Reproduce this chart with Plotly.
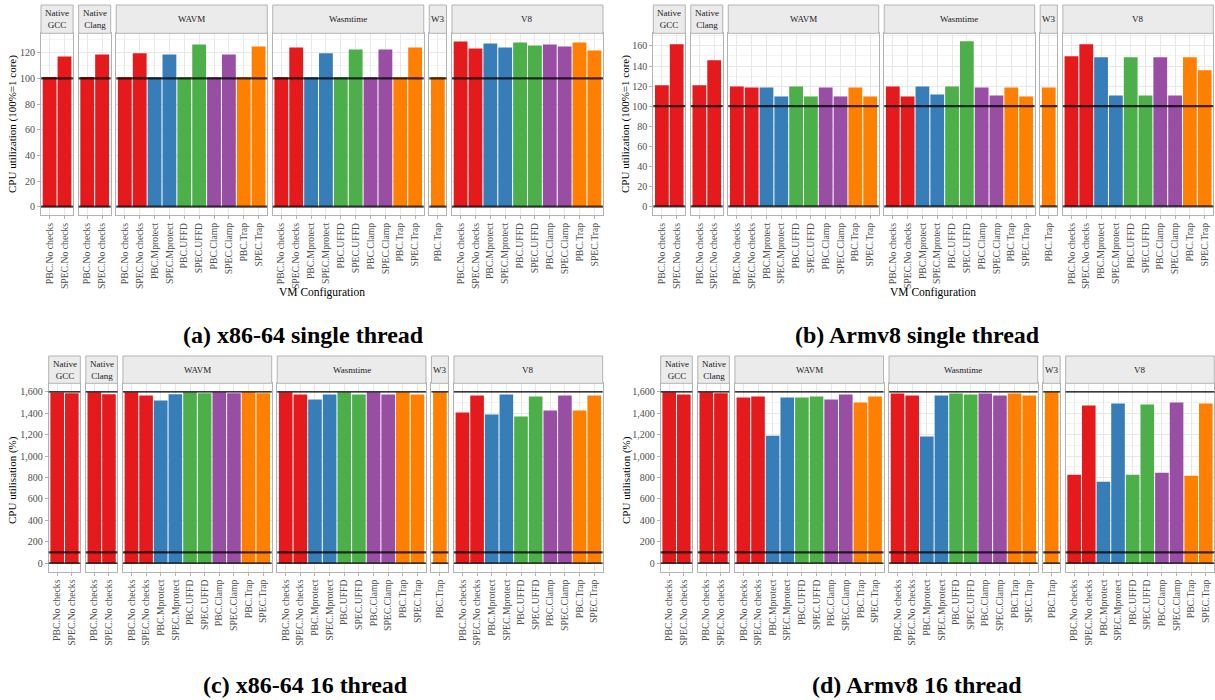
import plotly.graph_objects as go

# ---------------- data ----------------
FACET_LABELS = ["Native<br>GCC", "Native<br>Clang", "WAVM", "Wasmtime", "W3", "V8"]
CATS_NATIVE = ["PBC.No checks", "SPEC.No checks"]
CATS_VM = ["PBC.No checks", "SPEC.No checks", "PBC.Mprotect", "SPEC.Mprotect",
           "PBC.UFFD", "SPEC.UFFD", "PBC.Clamp", "SPEC.Clamp", "PBC.Trap", "SPEC.Trap"]
CATS_W3 = ["PBC.Trap"]
FACET_CATS = [CATS_NATIVE, CATS_NATIVE, CATS_VM, CATS_VM, CATS_W3, CATS_VM]

X86_SINGLE = [
    [101.2, 117.1],
    [101.2, 118.7],
    [101.0, 119.7, 101.0, 118.7, 101.0, 126.5, 101.0, 118.7, 101.0, 125.0],
    [101.0, 124.2, 101.0, 119.7, 101.0, 122.6, 101.0, 122.6, 101.0, 124.2],
    [101.0],
    [128.9, 123.4, 127.3, 124.2, 128.1, 125.7, 126.5, 125.0, 128.1, 121.8],
]
ARM_SINGLE = [
    [120.7, 161.7],
    [120.7, 145.7],
    [119.7, 118.7, 118.7, 109.7, 119.7, 109.7, 118.7, 109.7, 118.7, 109.7],
    [119.7, 109.7, 119.7, 111.7, 119.7, 164.7, 118.7, 110.7, 118.7, 109.7],
    [118.7],
    [149.7, 161.7, 148.7, 110.7, 148.7, 110.7, 148.7, 110.7, 148.7, 135.7],
]
X86_16 = [
    [1594, 1588],
    [1597, 1578],
    [1597, 1566, 1519, 1578, 1597, 1588, 1597, 1588, 1597, 1588],
    [1597, 1575, 1528, 1575, 1597, 1575, 1597, 1575, 1597, 1575],
    [1597],
    [1407, 1566, 1388, 1575, 1369, 1556, 1425, 1566, 1425, 1566],
]
ARM_16 = [
    [1597, 1575],
    [1597, 1588],
    [1547, 1556, 1191, 1547, 1547, 1556, 1528, 1575, 1500, 1556],
    [1584, 1566, 1182, 1566, 1584, 1575, 1584, 1566, 1584, 1566],
    [1597],
    [826, 1472, 761, 1491, 826, 1481, 845, 1500, 817, 1491],
]
HLINES_SINGLE = [0, 100]
HLINES_16 = [0, 100, 1600]

CAPTIONS = ["(a) x86-64 single thread", "(b) Armv8 single thread",
            "(c) x86-64 16 thread", "(d) Armv8 16 thread"]
YTITLE_SINGLE = "CPU utilization (100%=1 core)"
YTITLE_16 = "CPU utilisation (%)"
XTITLE = "VM Configuration"

# ---------------- style ----------------
COLORS = {"No checks": "#E41A1C", "Mprotect": "#377EB8", "UFFD": "#4DAF4A",
          "Clamp": "#984EA3", "Trap": "#FF7F00"}
W, H = 1215, 700
FONT = "Liberation Serif"
BORDER = "#B3B3B3"
GRID = "#E8E8E8"
MINOR = "#F3F3F3"
GAP = 5.5
EXP = 0.08

PANELS = [
    dict(data=X86_SINGLE, hl=HLINES_SINGLE, yt=YTITLE_SINGLE, xt=XTITLE, cap=CAPTIONS[0],
         L=41, R=603, st=5, top=33.3, bot=215, yr=[-6.5, 135.2], dt=20, mdt=10, fmt="",
         ytx=12, yty=124, capx=303.5, capy=335, ytpx=292),
    dict(data=ARM_SINGLE, hl=HLINES_SINGLE, yt=YTITLE_SINGLE, xt=XTITLE, cap=CAPTIONS[1],
         L=653.3, R=1213.3, st=5, top=33.3, bot=215, yr=[-8.5, 172.6], dt=20, mdt=10, fmt="",
         ytx=625, yty=124, capx=917, capy=335, ytpx=292),
    dict(data=X86_16, hl=HLINES_16, yt=YTITLE_16, xt=None, cap=CAPTIONS[2],
         L=48.7, R=602.7, st=356, top=383.3, bot=571.7, yr=[-80, 1680], dt=200, mdt=100, fmt=",",
         ytx=12, yty=480, capx=305.5, capy=685, ytpx=None),
    dict(data=ARM_16, hl=HLINES_16, yt=YTITLE_16, xt=None, cap=CAPTIONS[3],
         L=660.7, R=1214.3, st=356, top=383.3, bot=571.7, yr=[-80, 1680], dt=200, mdt=100, fmt=",",
         ytx=626, yty=480, capx=917.5, capy=685, ytpx=None),
]

fig = go.Figure()
layout = {}
shapes = []
annotations = []
ai = 0
for p in PANELS:
    units = [len(c) + 2 * EXP for c in FACET_CATS]
    k = (p["R"] - p["L"] - GAP * (len(FACET_CATS) - 1)) / sum(units)
    x = p["L"]
    for fi, cats in enumerate(FACET_CATS):
        ai += 1
        w = units[fi] * k
        x0, x1 = x, x + w
        x = x1 + GAP
        xa = "x" if ai == 1 else f"x{ai}"
        ya = "y" if ai == 1 else f"y{ai}"
        xk = "xaxis" if ai == 1 else f"xaxis{ai}"
        yk = "yaxis" if ai == 1 else f"yaxis{ai}"
        vals = p["data"][fi]
        cols = [COLORS[c.split(".", 1)[1]] for c in cats]
        fig.add_trace(go.Bar(x=cats, y=vals, xaxis=xa, yaxis=ya, width=0.93,
                             marker=dict(color=cols, line=dict(width=0)),
                             showlegend=False, hovertemplate="%{x}: %{y}<extra></extra>"))
        layout[xk] = dict(domain=[x0 / W, x1 / W], anchor=ya, type="category",
                          categoryorder="array", categoryarray=cats,
                          range=[-0.5 - EXP, len(cats) - 0.5 + EXP],
                          tickangle=-90, tickfont=dict(family=FONT, size=9.7, color="#4D4D4D"),
                          ticks="outside", ticklen=3, tickcolor=BORDER, tickwidth=1,
                          showgrid=True, gridcolor=GRID, gridwidth=1,
                          showline=True, mirror=True, linecolor=BORDER, linewidth=1,
                          zeroline=False, fixedrange=True)
        first = fi == 0
        layout[yk] = dict(domain=[1 - p["bot"] / H, 1 - p["top"] / H], anchor=xa,
                          range=p["yr"], dtick=p["dt"], tick0=0, tickformat=p["fmt"],
                          showticklabels=first, ticks="outside" if first else "",
                          ticklen=3, tickcolor=BORDER, tickwidth=1,
                          tickfont=dict(family=FONT, size=10, color="#4D4D4D"),
                          showgrid=True, gridcolor=GRID, gridwidth=1,
                          minor=dict(dtick=p["mdt"], tick0=p["mdt"], showgrid=True,
                                     gridcolor=MINOR, gridwidth=0.7, ticks=""),
                          showline=True, mirror=True, linecolor=BORDER, linewidth=1,
                          zeroline=False, fixedrange=True)
        # strip
        shapes.append(dict(type="rect", xref="paper", yref="paper",
                           x0=x0 / W, x1=x1 / W, y0=1 - p["top"] / H, y1=1 - p["st"] / H,
                           fillcolor="#EBEBEB", line=dict(color=BORDER, width=1), layer="above"))
        annotations.append(dict(text=FACET_LABELS[fi], xref="paper", yref="paper",
                                x=(x0 + x1) / 2 / W, y=1 - (p["st"] + p["top"]) / 2 / H,
                                showarrow=False, xanchor="center", yanchor="middle",
                                font=dict(family=FONT, size=9, color="#1A1A1A")))
        # reference lines
        for v in p["hl"]:
            if v == 100:
                lc, lw = "rgba(0,0,0,0.75)", 2.2
            elif len(p["hl"]) == 2:
                lc, lw = "rgba(0,0,0,0.7)", 2.2
            else:
                lc, lw = "#000000", 1.2
            shapes.append(dict(type="line", xref=f"{xa} domain", yref=ya, x0=0, x1=1,
                               y0=v, y1=v, line=dict(color=lc, width=lw), layer="above"))
    # titles
    annotations.append(dict(text=p["yt"], xref="paper", yref="paper", x=p["ytx"] / W,
                            y=1 - p["yty"] / H, textangle=-90, showarrow=False,
                            xanchor="center", yanchor="middle",
                            font=dict(family=FONT, size=11, color="#000000")))
    if p["xt"]:
        annotations.append(dict(text=p["xt"], xref="paper", yref="paper",
                                x=(p["L"] + p["R"]) / 2 / W, y=1 - p["ytpx"] / H,
                                showarrow=False, xanchor="center", yanchor="middle",
                                font=dict(family=FONT, size=11.5, color="#000000")))
    annotations.append(dict(text="<b>" + p["cap"] + "</b>", xref="paper", yref="paper",
                            x=p["capx"] / W, y=1 - p["capy"] / H, showarrow=False,
                            xanchor="center", yanchor="middle",
                            font=dict(family=FONT, size=24, color="#000000")))

fig.update_layout(width=W, height=H, margin=dict(l=0, r=0, t=0, b=0),
                  paper_bgcolor="white", plot_bgcolor="white", autosize=False,
                  shapes=shapes, annotations=annotations, showlegend=False, **layout)

fig.write_html("out.html", config={"displayModeBar": False},
               post_script="document.body.style.margin='0';document.body.style.overflow='hidden';")
